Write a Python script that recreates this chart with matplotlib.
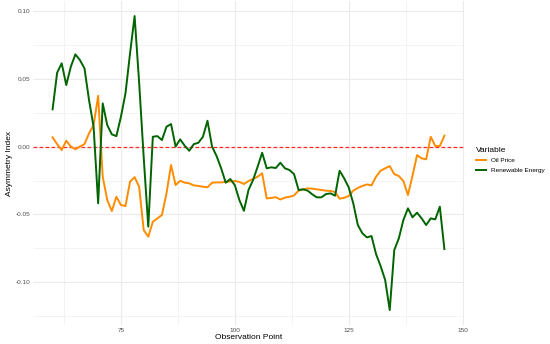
import numpy as np
import matplotlib
matplotlib.use("Agg")
from matplotlib import pyplot as plt
from matplotlib.ticker import MultipleLocator

plt.rcParams['font.family'] = ['Liberation Sans', 'DejaVu Sans']

# observation points 60..146
obs = list(range(60, 147))

oil_price = [
    0.0068, 0.0018, -0.0026, 0.0043, 0.0000, -0.0020, 0.0000, 0.0018, 0.0097, 0.0158,   # 60-69
    0.0374, -0.0222, -0.0394, -0.0475, -0.0370, -0.0430, -0.0438, -0.0259, -0.0225, -0.0296,  # 70-79
    -0.0615, -0.0664, -0.0554, -0.0529, -0.0504, -0.0345, -0.0136, -0.0284, -0.0252, -0.0266,  # 80-89
    -0.0271, -0.0286, -0.0290, -0.0296, -0.0300, -0.0266, -0.0264, -0.0264, -0.0260, -0.0257,  # 90-99
    -0.0254, -0.0260, -0.0276, -0.0254, -0.0239, -0.0222, -0.0197, -0.0382, -0.0378, -0.0373,  # 100-109
    -0.0390, -0.0376, -0.0370, -0.0360, -0.0325, -0.0315, -0.0308, -0.0310, -0.0315, -0.0320,  # 110-119
    -0.0325, -0.0327, -0.0335, -0.0384, -0.0377, -0.0364, -0.0325, -0.0305, -0.0290, -0.0279,  # 120-129
    -0.0286, -0.0222, -0.0178, -0.0160, -0.0144, -0.0203, -0.0217, -0.0254, -0.0357, -0.0215,  # 130-139
    -0.0063, -0.0087, -0.0094, 0.0072, 0.0004, 0.0004, 0.0080,                                 # 140-146
]

renewable_energy = [
    0.0274, 0.0544, 0.0613, 0.0453, 0.0588, 0.0679, 0.0637, 0.0576, 0.0342, 0.0146,   # 60-69
    -0.0418, 0.0318, 0.0158, 0.0090, 0.0077, 0.0219, 0.0392, 0.0686, 0.0961, 0.0470,   # 70-79
    -0.0080, -0.0590, 0.0072, 0.0077, 0.0048, 0.0146, 0.0166, 0.0000, 0.0053, 0.0006,  # 80-89
    -0.0031, 0.0018, 0.0028, 0.0072, 0.0190, 0.0000, -0.0070, -0.0160, -0.0266, -0.0239,  # 90-99
    -0.0284, -0.0394, -0.0473, -0.0320, -0.0247, -0.0149, -0.0046, -0.0160, -0.0153, -0.0158,  # 100-109
    -0.0119, -0.0160, -0.0173, -0.0203, -0.0320, -0.0315, -0.0325, -0.0352, -0.0374, -0.0374,  # 110-119
    -0.0350, -0.0345, -0.0362, -0.0178, -0.0234, -0.0301, -0.0418, -0.0578, -0.0639, -0.0669,  # 120-129
    -0.0659, -0.0792, -0.0880, -0.0983, -0.1204, -0.0762, -0.0676, -0.0541, -0.0455, -0.0521,  # 130-139
    -0.0487, -0.0529, -0.0578, -0.0529, -0.0536, -0.0443, -0.0755,                             # 140-146
]

series_names = ["Oil Price", "Renewable Energy"]
series_colors = ["#FF8C00", "#006400"]

fig = plt.figure(figsize=(5.5, 3.44), dpi=100)
ax = fig.add_axes([0.06, 0.056, 0.7836, 0.94])

grid_col = "#EBEBEB"
ax.set_facecolor("white")
for s in ax.spines.values():
    s.set_visible(False)

ax.xaxis.set_major_locator(MultipleLocator(25))
ax.xaxis.set_minor_locator(MultipleLocator(12.5))
ax.yaxis.set_major_locator(MultipleLocator(0.05))
ax.yaxis.set_minor_locator(MultipleLocator(0.025))
ax.grid(which="major", color=grid_col, linewidth=0.8)
ax.grid(which="minor", color=grid_col, linewidth=0.4)
ax.set_axisbelow(True)
ax.tick_params(which="both", length=0, labelsize=4.6, labelcolor="#4D4D4D", pad=2)

# zero reference line, under the series
ax.axhline(0, color="#FF2A2A", linestyle=(0, (3, 1.8)), linewidth=0.9, zorder=2)

for vals, name, col in zip([oil_price, renewable_energy], series_names, series_colors):
    ax.plot(obs, vals, color=col, linewidth=1.4, label=name, zorder=3)

xmin, xmax = min(obs), max(obs)
xpad = (xmax - xmin) * 0.05
ax.set_xlim(xmin - xpad, xmax + xpad)
allv = oil_price + renewable_energy
ypad = (max(allv) - min(allv)) * 0.05
ax.set_ylim(min(allv) - ypad, max(allv) + ypad)

ax.yaxis.set_major_formatter(matplotlib.ticker.FuncFormatter(lambda v, p: f"{v:.2f}"))

ax.set_xlabel("Observation Point", fontsize=6, labelpad=1)
ax.set_ylabel("Asymmetry Index", fontsize=6, labelpad=2)

leg = fig.legend(loc="center left", bbox_to_anchor=(0.855, 0.535), frameon=False,
                 title="Variable", fontsize=4.6, title_fontsize=6,
                 handlelength=1.6, handletextpad=0.8, labelspacing=0.6)
leg._legend_box.align = "left"

fig.savefig("out.png", dpi=100)
